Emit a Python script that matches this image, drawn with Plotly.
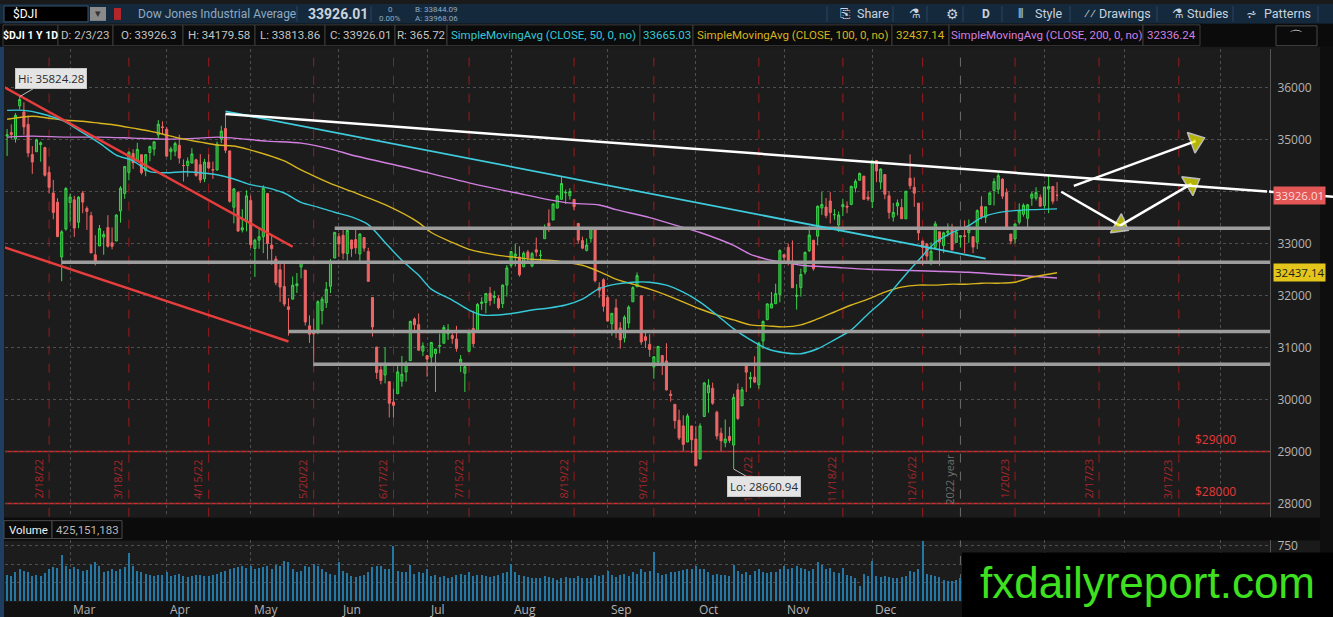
import pandas as pd
import plotly.graph_objects as go

W, H = 1333, 617

# $DJI daily bars 2/3/22 .. 2/3/23 (one line per month)
opens = [
    35463, 35066, 35134, 35010, 35645, 35530, 35290, 34712, 34764, 34900, 34843, 34366, 33970, 33794, 32740, 33277, 33788,
    33838, 33407, 33968, 33673, 33535, 32782, 32951, 33122, 33305, 33013, 33047, 33624, 33961, 34367, 34730, 34597, 34706, 34400, 34748, 34814, 35087, 35242, 35198,
    34766, 34775, 34887, 34500, 34497, 34545, 34609, 34515, 34242, 34561, 34423, 34413, 35007, 35209, 34780, 33696, 33980, 33259, 33417, 33825,
    32902, 33063, 33128, 33960, 32968, 32701, 32494, 32173, 31782, 31929, 32187, 32547, 32487, 31416, 31302, 31335, 31710, 31860, 32176, 32719, 33132,
    33156, 32807, 33066, 33074, 32798, 33113, 32847, 31960, 31008, 30569, 30469, 30342, 29948, 30110, 30350, 30528, 30746, 31547, 31439, 30929, 30843,
    30814, 30882, 31023, 31081, 31264, 31230, 31163, 30674, 30504, 30926, 31366, 31288, 31846, 31864, 32044, 31960, 31942, 31844, 32199, 32579,
    32753, 32740, 32552, 32837, 32566, 32878, 32770, 33091, 33390, 33451, 33680, 33848, 33971, 33917, 33847, 33386, 33055, 32866, 33098, 33262, 32154, 32303, 31959,
    31457, 31762, 31376, 31180, 31469, 31878, 32167, 31994, 31206, 31061, 30624, 30720, 30844, 30741, 30102, 29906, 29599, 29491, 29181, 29491, 29238,
    28855, 29672, 30128, 30216, 29754, 29352, 29168, 29290, 29123, 30185, 29878, 30649, 30393, 30429, 30284, 31124, 31535, 31758, 31841, 32021, 32785,
    32925, 32659, 31985, 32150, 32450, 32860, 33061, 33140, 33683, 33701, 33817, 33552, 33355, 33706, 33718, 33747, 34067, 34216, 34295, 33889, 33805,
    34596, 34181, 34325, 33917, 33507, 33720, 33691, 33474, 34255, 34080, 33775, 33048, 32991, 32663, 32923, 33224, 32961, 33200, 33264, 33021, 33121,
    33148, 33207, 33130, 33025, 33711, 33503, 33747, 34017, 34043, 34236, 33982, 33181, 33087, 33409, 33562, 33484, 33870, 33871, 33885, 33729,
    34045, 34096, 33926.3,
]
highs = [
    35491, 35200, 35290, 35507, 35824.28, 35716, 35461, 34872, 35013, 34962, 34859, 34480, 34223, 33870, 33255, 34080, 33953,
    33917, 33910, 34009, 33714, 33608, 33158, 33355, 33240, 33544, 33307, 33563, 34101, 34481, 34770, 34811, 34936, 34706, 34713, 34881, 34957, 35372, 35350, 35238,
    34861, 34958, 35091, 34616, 34656, 34832, 34629, 34718, 34628, 34714, 34576, 34959, 35262, 35492, 34784, 34066, 34007, 33659, 34022, 33920,
    33090, 33295, 34118, 33960, 33163, 32761, 32658, 32656, 31949, 32364, 32432, 32655, 32487, 31616, 31554, 31906, 31977, 32260, 32697, 33213, 33203,
    33261, 33248, 33066, 33273, 33198, 33113, 32916, 31960, 31008, 30689, 31004, 30342, 30204, 30674, 30836, 30740, 31516, 31577, 31654, 31096, 30843,
    31106, 30971, 31268, 31431, 31448, 31274, 31416, 30854, 30674, 31316, 31707, 31853, 31965, 32043, 32165, 32090, 32001, 32214, 32584, 32847,
    32992, 32944, 32848, 32876, 32836, 33111, 32874, 33365, 33655, 33762, 33933, 34281, 34036, 34062, 33847, 33386, 33131, 33095, 33309, 33297, 32253, 32331, 32006,
    31657, 31934, 31485, 31618, 31810, 32178, 32442, 31994, 31325, 31257, 30822, 31021, 30844, 31080, 30178, 29906, 29802, 29695, 29728, 29491, 29486,
    29541, 30339, 30389, 30323, 29784, 29455, 29615, 29470, 30109, 30307, 30240, 30699, 30528, 30830, 31108, 31519, 31849, 32065, 32225, 32889, 32785,
    33000, 33057, 32218, 32516, 32846, 33326, 33069, 33727, 33988, 33873, 33987, 33660, 33616, 33859, 33810, 34112, 34234, 34363, 34295, 34012, 34590,
    34596, 34444, 34325, 34002, 33778, 33845, 33858, 34005, 34712, 34270, 33775, 33048, 33011, 33020, 33428, 33224, 33226, 33387, 33379, 33292, 33152,
    33442, 33461, 33131, 33655, 33907, 33705, 33973, 34255, 34348, 34254, 34056, 33181, 33381, 33770, 33771, 33760, 33991, 34082, 33944, 34087,
    34334, 34106, 34179.58,
]
lows = [
    34999, 34683, 35017, 34940, 35573, 35090, 34658, 34338, 34764, 34571, 34285, 33962, 33464, 33120, 32273, 33245, 33405,
    33125, 33292, 33581, 33260, 32818, 32578, 32951, 32782, 32921, 32888, 33047, 33400, 33860, 34214, 34435, 34597, 34324, 34292, 34582, 34688, 35007, 35101, 34678,
    34608, 34677, 34537, 34191, 34283, 34545, 34282, 34162, 34179, 34435, 34241, 34401, 34929, 34737, 33783, 33386, 33221, 33212, 33232, 32913,
    32357, 32898, 32813, 32689, 32591, 32195, 31874, 31790, 31228, 31929, 32047, 32329, 31421, 31088, 30636, 31255, 31442, 31759, 32046, 32719, 32741,
    32693, 32644, 32743, 32800, 32662, 32843, 32264, 31210, 30395, 30291, 30309, 29654, 29653, 30110, 30244, 30343, 30746, 31332, 30941, 30837, 30437,
    30637, 30143, 30886, 31081, 31146, 31072, 30919, 30525, 30143, 30926, 31006, 31288, 31723, 31659, 31802, 31839, 31732, 31757, 31979, 32538,
    32558, 32362, 32542, 32630, 32540, 32748, 32637, 33091, 33222, 33451, 33669, 33848, 33760, 33841, 33640, 32997, 32888, 32848, 33016, 32249, 31955, 31690, 31496,
    31226, 31180, 30978, 31095, 31370, 31878, 32167, 31051, 30990, 30821, 30399, 30653, 30470, 30172, 29957, 29439, 29218, 29009, 29180, 28968, 28716,
    28855, 29672, 29744, 29896, 29230, 29002, 29081, 29162, 28660.94, 29603, 29878, 30142, 30218, 30313, 30207, 30970, 31523, 31758, 31841, 31868, 32647,
    32577, 32148, 31728, 31978, 32404, 32834, 32477, 32962, 33549, 33487, 33383, 33456, 33221, 33528, 33583, 33747, 33983, 34204, 33840, 33818, 33681,
    34178, 34040, 33851, 33474, 33421, 33539, 33476, 33474, 34044, 33704, 33059, 32574, 32667, 32581, 32923, 32573, 32814, 33130, 32869, 33021, 32919,
    32813, 33011, 32813, 32892, 33466, 33391, 33747, 33731, 33951, 33855, 33275, 32982, 33007, 33365, 33517, 33316, 33724, 33826, 33702, 33672,
    33582, 33754, 33813.86,
]
closes = [
    35111, 35089, 35091, 35463, 35768, 35241, 34738, 34566, 34989, 34935, 34312, 34079, 33597, 33132, 33224, 34059, 33893,
    33295, 33891, 33795, 33615, 32818, 32633, 33286, 33174, 32944, 32945, 33545, 34063, 34481, 34755, 34553, 34808, 34359, 34708, 34862, 34955, 35294, 35229, 34678,
    34818, 34922, 34641, 34497, 34583, 34721, 34308, 34220, 34565, 34451, 34411, 34911, 35161, 34793, 33811, 34049, 33240, 33302, 33916, 32977,
    33062, 33129, 34061, 32998, 32900, 32246, 32161, 31834, 31730, 32197, 32223, 32655, 31490, 31253, 31262, 31880, 31928, 32120, 32637, 33213, 32990,
    32813, 33248, 32900, 32916, 33180, 32910, 32272, 31393, 30517, 30365, 30668, 29927, 29888, 30530, 30484, 30677, 31501, 31438, 30947, 31029, 30775,
    31097, 30968, 31037, 31385, 31338, 31174, 30982, 30773, 30630, 31288, 31073, 31827, 31874, 32037, 31899, 31990, 31762, 32198, 32530, 32845,
    32798, 32397, 32813, 32727, 32803, 32833, 32775, 33310, 33337, 33761, 33913, 34153, 33981, 33999, 33707, 33064, 32910, 32969, 33292, 32283, 32099, 31791, 31510,
    31657, 31318, 31145, 31581, 31775, 32152, 32381, 31105, 31135, 30962, 30822, 31020, 30706, 30184, 30077, 29590, 29261, 29135, 29684, 29226, 28726,
    29490, 30317, 30274, 29927, 29297, 29203, 29240, 29211, 30039, 29635, 30186, 30524, 30424, 30334, 31083, 31500, 31837, 31840, 32034, 32862, 32733,
    32653, 32148, 32002, 32403, 32827, 33161, 32514, 33716, 33748, 33537, 33593, 33554, 33547, 33746, 33700, 34098, 34195, 34347, 33850, 33853, 34590,
    34395, 34430, 33947, 33597, 33598, 33781, 33476, 34005, 34108, 33966, 33203, 32920, 32757, 32850, 33377, 33027, 33204, 33241, 32876, 33221, 33147,
    33136, 33270, 32930, 33631, 33518, 33704, 33973, 34190, 34303, 33910, 33297, 33045, 33375, 33630, 33734, 33744, 33949, 33978, 33717, 34086,
    34093, 33812, 33926.01,
]
# volume, millions of shares
volume_m = [
    340, 345, 330, 380, 420, 400, 390, 330, 345, 330, 370, 420, 450, 440, 620, 470, 430,
    450, 430, 400, 410, 480, 520, 460, 390, 400, 420, 400, 430, 450, 640, 460, 400, 380, 360, 350, 330, 340, 350, 380,
    330, 340, 360, 330, 320, 330, 340, 350, 330, 330, 350, 360, 380, 400, 420, 440, 450, 460, 440, 470,
    430, 440, 450, 470, 430, 480, 470, 540, 520, 430, 380, 400, 460, 450, 490, 470, 420, 390, 360, 350, 520,
    400, 370, 330, 320, 330, 340, 380, 450, 470, 460, 420, 430, 730, 400, 380, 390, 480, 360, 380, 370, 420,
    330, 340, 320, 330, 310, 320, 340, 360, 350, 380, 330, 340, 350, 330, 320, 330, 340, 370, 380, 500,
    380, 340, 330, 320, 300, 310, 300, 330, 320, 300, 280, 300, 320, 310, 300, 330, 300, 310, 300, 340, 330, 340, 400,
    350, 320, 340, 360, 330, 380, 360, 420, 380, 400, 650, 370, 340, 360, 380, 390, 400, 410, 430, 420, 470,
    420, 420, 380, 350, 360, 340, 350, 330, 480, 400, 360, 380, 340, 400, 420, 390, 370, 380, 380, 420, 460,
    420, 440, 460, 440, 420, 400, 430, 520, 480, 420, 440, 380, 370, 440, 350, 330, 300, 200, 360, 330, 540,
    330, 320, 330, 320, 310, 300, 320, 330, 400, 380, 420, 810, 360, 340, 330, 320, 280, 260, 270, 280, 300,
    340, 330, 320, 360, 340, 330, 320, 330, 320, 380, 370, 360, 430, 330, 340, 320, 310, 300, 320, 420,
    400, 380, 425.15,
]

sma50_at = [1, 5, 9, 14, 18, 23, 27, 31, 35, 39, 43, 47, 51, 55, 59, 63, 67, 71, 75, 79, 83, 87, 91, 95, 99,
            102, 107, 111, 114, 118, 122, 126, 130, 134, 138, 142, 146, 150, 154, 158, 162, 166, 170, 174, 178,
            182, 186, 190, 194, 198, 202, 206, 210, 214, 218, 222, 226, 230, 233, 237, 241, 245, 251]
sma50 = [35560, 35560, 35500, 35370, 35180, 34930, 34700, 34590, 34380, 34360, 34380, 34360, 34320, 34240, 34130,
         34070, 33970, 33790, 33700, 33600, 33510, 33363, 33019, 32676, 32389, 32121, 31911, 31720, 31625, 31625,
         31663, 31720, 31758, 31816, 31930, 32130, 32217, 32255, 32255, 32198, 32064, 31873, 31625, 31357, 31147,
         30975, 30899, 30880, 30975, 31147, 31338, 31644, 31930, 32313, 32676, 33019, 33210, 33344, 33497, 33593,
         33631, 33650, 33665.03]
sma100_at = [1, 7, 11, 15, 19, 23, 27, 31, 35, 39, 43, 47, 51, 55, 59, 63, 67, 71, 75, 79, 83, 91, 99, 102, 107,
             111, 114, 118, 122, 126, 130, 134, 138, 142, 146, 150, 154, 158, 166, 170, 174, 178, 182, 186, 190,
             194, 198, 202, 206, 210, 214, 218, 222, 226, 230, 233, 237, 241, 245, 251]
sma100 = [35389, 35446, 35408, 35370, 35350, 35312, 35274, 35217, 35159, 35083, 35006, 34949, 34892, 34873, 34796,
          34701, 34586, 34414, 34261, 34120, 34000, 33745, 33402, 33210, 33019, 32886, 32828, 32771, 32733, 32695,
          32676, 32637, 32580, 32460, 32313, 32217, 32120, 32007, 31739, 31625, 31529, 31434, 31415, 31395, 31434,
          31548, 31682, 31816, 31930, 32064, 32160, 32198, 32198, 32217, 32217, 32236, 32236, 32255, 32351, 32437.14]
sma200_at = [1, 7, 15, 23, 31, 39, 47, 51, 55, 63, 71, 79, 83, 95, 111, 122, 134, 142, 146, 154, 162, 166, 174,
             178, 182, 186, 190, 198, 206, 214, 222, 230, 237, 245, 251]
sma200 = [35045, 35064, 35045, 35045, 35026, 35006, 35026, 35045, 35026, 34968, 34930, 34796, 34701, 34480, 34166,
          33975, 33784, 33740, 33650, 33497, 33306, 33210, 32962, 32790, 32695, 32637, 32580, 32542, 32504, 32485,
          32466, 32446, 32408, 32370, 32336.24]

# drawings on the chart
white_line = [("2022-04-21", 35490), ("2023-04-18", 33997)]
white_tail = [33997, 33900]  # the same line running on across the price scale
cyan_line = [("2022-04-21", 35541), ("2023-01-10", 32708)]
red_lines = [[("2022-02-03", 36020), ("2022-05-13", 32937)],
             [("2022-02-03", 32935), ("2022-05-12", 31115)]]
gray_levels = [("2022-05-27", 33290), ("2022-02-24", 32637), ("2022-05-12", 31306), ("2022-05-20", 30675)]
price_levels = [29000, 28000]
arrow_paths = [[("2023-02-06", 33994), ("2023-02-27", 33344)],
               [("2023-02-27", 33344), ("2023-03-22", 34147)],
               [("2023-02-09", 34108), ("2023-03-23", 34968)]]
expiry_days = ["2022-02-18", "2022-03-18", "2022-04-14", "2022-05-20", "2022-06-17", "2022-07-15", "2022-08-19",
               "2022-09-16", "2022-10-21", "2022-11-18", "2022-12-16", "2023-01-20", "2023-02-17", "2023-03-17"]
expiry_labels = ["2/18/22", "3/18/22", "4/15/22", "5/20/22", "6/17/22", "7/15/22", "8/19/22",
                 "9/16/22", "10/21/22", "11/18/22", "12/16/22", "1/20/23", "2/17/23", "3/17/23"]
price_ticks = list(range(28000, 37000, 1000))

holidays = ["2022-02-21", "2022-04-15", "2022-05-30", "2022-06-20", "2022-07-04", "2022-09-05", "2022-11-24",
            "2022-12-26", "2023-01-02", "2023-01-16", "2023-02-20", "2023-04-07"]
sessions = pd.bdate_range("2022-02-03", "2023-04-28")
sessions = sessions[~sessions.isin(pd.to_datetime(holidays))]
dates = sessions[:len(closes)]

CYAN, YELLOW, PINK = "#35c9d8", "#d8b41e", "#d17fe0"
FONT = "Open Sans"


def px(x):
    return x / W


def py(y):
    return 1 - y / H


fig = go.Figure()

fig.add_trace(go.Candlestick(
    x=dates, open=opens, high=highs, low=lows, close=closes,
    increasing=dict(line=dict(color="#3bd44b", width=1), fillcolor="#24822f"),
    decreasing=dict(line=dict(color="#ef6565", width=1), fillcolor="#ef6565"),
    whiskerwidth=0, hoverinfo="skip", showlegend=False, xaxis="x", yaxis="y"))

for at, vals, col in [(sma200_at, sma200, PINK), (sma100_at, sma100, YELLOW), (sma50_at, sma50, CYAN)]:
    fig.add_trace(go.Scatter(x=sessions[at], y=vals, mode="lines",
                             line=dict(color=col, width=1.4, shape="spline", smoothing=0.8),
                             hoverinfo="skip", showlegend=False, xaxis="x", yaxis="y"))

fig.add_trace(go.Bar(x=dates, y=volume_m, marker=dict(color="#2478a6", line=dict(width=0)),
                     width=86400000 * 0.3, hoverinfo="skip", showlegend=False, xaxis="x2", yaxis="y2"))

for path in arrow_paths:
    (d0, p0), (d1, p1) = path
    fig.add_trace(go.Scatter(
        x=[d0, d1], y=[p0, p1], mode="lines+markers",
        line=dict(color="white", width=2.5),
        marker=dict(symbol="triangle-up", size=[0, 19], color="#f4f400",
                    line=dict(color="white", width=1.5), angleref="previous"),
        hoverinfo="skip", showlegend=False, xaxis="x", yaxis="y"))

shapes = []
ann = []


def box(x0, y0, x1, y1, fill, line=None, layer="below"):
    shapes.append(dict(type="rect", xref="paper", yref="paper", x0=px(x0), x1=px(x1), y0=py(y1), y1=py(y0),
                       fillcolor=fill, line=dict(color=line or fill, width=1 if line else 0), layer=layer))


def text(x, y, s, color, size=11, bold=False, anchor="left", family="Roboto"):
    if bold:
        s = "<b>" + s + "</b>"
    ann.append(dict(xref="paper", yref="paper", x=px(x), y=py(y), text=s, showarrow=False,
                    xanchor=anchor, yanchor="middle", font=dict(color=color, size=size, family=family)))


# backgrounds of the toolbars and bands
box(0, 0, W, 20, "#15293c")
box(0, 20, W, 43, "#0b0b0b")
box(0, 517, W, 540, "#0b0b0b")
box(0, 602, W, H, "#111111")
box(1320, 43, W, H, "#0e0e0e")
box(0, 43, 4, H, "#1d3e60")

# top toolbar
box(4, 2, 88, 18, "#000000", "#3a556e")
text(11, 10, "$DJI", "#ffffff", 12)
box(90, 3, 106, 17, "#8a8a8a")
text(98, 10, "▾", "#333333", 11, anchor="center")
box(114, 4, 121, 16, "#b3262a")
text(136, 10, "Dow Jones Industrial Average", "#8fa9c2", 12)
text(306, 10, "33926.01", "#c9d4de", 14, bold=True)
text(390, 6, "0", "#8fa9c2", 8, anchor="center")
text(390, 15, "0.00%", "#8fa9c2", 8, anchor="center")
text(413, 6, "B: 33844.09", "#8fa9c2", 8)
text(413, 15, "A: 33968.06", "#8fa9c2", 8)
for sx in [297, 371, 827, 893, 927, 963, 1002, 1070, 1157, 1233, 1318]:
    shapes.append(dict(type="line", xref="paper", yref="paper", x0=px(sx), x1=px(sx), y0=py(2), y1=py(18),
                       line=dict(color="#2b4660", width=1)))
for x, s, sz in [(838, "⎘", 13), (855, "Share", 12.5), (907, "⚗", 13), (944, "⚙", 14), (980, "D", 12),
                 (1016, "⫴", 13), (1033, "Style", 12.5), (1082, "⁄⁄", 13), (1097, "Drawings", 12.5),
                 (1170, "⚗", 13), (1185, "Studies", 12.5), (1244, "⩫", 13), (1262, "Patterns", 12.5)]:
    text(x, 10, s, "#c8d3de", sz, bold=(s == "D"))

# second toolbar row
cells = [(3, 58, "$DJI 1 Y 1D", "#ffffff", True), (58, 113, "D: 2/3/23", "#c4c4c4", False),
         (113, 183, "O: 33926.3", "#c4c4c4", False), (183, 255, "H: 34179.58", "#c4c4c4", False),
         (255, 325, "L: 33813.86", "#c4c4c4", False), (325, 395, "C: 33926.01", "#c4c4c4", False),
         (395, 447, "R: 365.72", "#c4c4c4", False),
         (447, 640, "SimpleMovingAvg (CLOSE, 50, 0, no)", CYAN, False), (640, 693, "33665.03", CYAN, False),
         (693, 892, "SimpleMovingAvg (CLOSE, 100, 0, no)", YELLOW, False), (892, 949, "32437.14", YELLOW, False),
         (949, 1143, "SimpleMovingAvg (CLOSE, 200, 0, no)", PINK, False), (1143, 1200, "32336.24", PINK, False)]
for x0, x1, s, col, b in cells:
    box(x0, 21, x1, 42, "#0b0b0b", "#3c3c3c")
    text((x0 + x1) / 2, 31.5, s, col, 10.5 if b else 11.5, bold=b, anchor="center")
box(1276, 22, 1317, 42, "#0b0b0b", "#4a4a4a")
text(1296, 32, "⌒", "#d0d0d0", 14, anchor="center")

# volume header
box(4, 520, 52, 538, "#0b0b0b", "#4a4a4a")
text(28, 529, "Volume", "#f0f0f0", 11.5, anchor="center")
box(52, 520, 122, 538, "#0b0b0b", "#4a4a4a")
text(87, 529, "425,151,183", "#b8b8b8", 11.5, anchor="center")

# expiry markers (third Fridays)
for d, lab in zip(expiry_days, expiry_labels):
    shapes.append(dict(type="line", xref="x", yref="y domain", x0=d, x1=d, y0=0, y1=1,
                       line=dict(color="#9c1b1d", width=1, dash="dash"), layer="below"))
    ann.append(dict(xref="x", yref="paper", x=d, y=py(478), text=lab, textangle=-90, showarrow=False,
                    xanchor="right", yanchor="middle", xshift=-1,
                    font=dict(color="#a6272a", size=11, family=FONT)))

# year separator
for yr in ["y domain", "y2 domain"]:
    shapes.append(dict(type="line", xref="x", yref=yr, x0="2022-12-30", x1="2022-12-30", y0=0, y1=1,
                       line=dict(color="#6c6c6c", width=1, dash="dash"), layer="below"))
ann.append(dict(xref="x", yref="paper", x="2022-12-30", y=py(478), text="2022 year", textangle=-90,
                showarrow=False, xanchor="right", yanchor="middle", xshift=-1,
                font=dict(color="#6e6e6e", size=11, family=FONT)))

# horizontal price alerts
for lvl in price_levels:
    shapes.append(dict(type="line", xref="x domain", yref="y", x0=0, x1=1, y0=lvl, y1=lvl,
                       line=dict(color="#d42a2a", width=1.5), layer="below"))
    ann.append(dict(xref="paper", yref="y", x=px(1215), y=lvl, text="$%d" % lvl, showarrow=False,
                    xanchor="center", yanchor="bottom", yshift=1,
                    font=dict(color="#e23a3a", size=12, family=FONT)))

# drawn support / resistance
for d0, lvl in gray_levels:
    shapes.append(dict(type="line", xref="x", yref="y", x0=d0, x1="2023-04-28", y0=lvl, y1=lvl,
                       line=dict(color="#9d9d9d", width=3.5), layer="above"))
for path in red_lines:
    (d0, p0), (d1, p1) = path
    shapes.append(dict(type="line", xref="x", yref="y", x0=d0, x1=d1, y0=p0, y1=p1,
                       line=dict(color="#e83d3d", width=2.5), layer="above"))
for path, col, wd in [(cyan_line, "#3fcbdb", 1.8), (white_line, "#ffffff", 2.5)]:
    (d0, p0), (d1, p1) = path
    shapes.append(dict(type="line", xref="x", yref="y", x0=d0, x1=d1, y0=p0, y1=p1,
                       line=dict(color=col, width=wd), layer="above"))
shapes.append(dict(type="line", xref="paper", yref="y", x0=px(1269), x1=px(W), y0=white_tail[0], y1=white_tail[1],
                   line=dict(color="#ffffff", width=2.5), layer="above"))

# month gridlines sit on each month's last session; names only where the watermark leaves room
month_ends = sessions.to_series().groupby(sessions.to_period("M")).max()
month_ends = [d for d in month_ends if d < pd.Timestamp("2023-04-01")]
grid_days = [d for d in month_ends if d.month != 12]
for d in month_ends:
    if d >= pd.Timestamp("2022-12-01"):
        continue
    ann.append(dict(xref="x2", yref="paper", x=d, y=py(609), text=(d + pd.offsets.MonthBegin(1)).strftime("%b"),
                    showarrow=False, xanchor="left", yanchor="middle", xshift=1,
                    font=dict(color="#b4b4b4", size=12, family=FONT)))

# hi / lo callouts
ann.append(dict(xref="x", yref="y", x=dates[4], y=35824.28, text="Hi: 35824.28", showarrow=True,
                ax=31, ay=-18, arrowhead=0, arrowwidth=1, arrowcolor="#bdbdbd", bgcolor="#e4e4e4",
                bordercolor="#c8c8c8", borderpad=2, font=dict(color="#2a2a2a", size=11.5, family=FONT)))
ann.append(dict(xref="x", yref="y", x="2022-10-13", y=28660.94, text="Lo: 28660.94", showarrow=True,
                ax=30, ay=17, arrowhead=0, arrowwidth=1, arrowcolor="#bdbdbd", bgcolor="#e4e4e4",
                bordercolor="#c8c8c8", borderpad=2, font=dict(color="#2a2a2a", size=11.5, family=FONT)))

# last price / sma100 tags on the price scale
ann.append(dict(xref="paper", yref="y", x=px(1273), y=33926.01, text="33926.01", showarrow=False,
                xanchor="left", yanchor="middle", bgcolor="#e35757", borderpad=1,
                font=dict(color="#ffd9d9", size=11.5, family=FONT)))
ann.append(dict(xref="paper", yref="y", x=px(1273), y=32437.14, text="32437.14", showarrow=False,
                xanchor="left", yanchor="middle", bgcolor="#e3c51b", borderpad=1,
                font=dict(color="#1e1e1e", size=11.5, family=FONT)))

# watermark
box(962, 552, W, H, "#000000", layer="above")
ann.append(dict(xref="paper", yref="paper", x=px(1147), y=py(582), text="fxdailyreport.com", showarrow=False,
                xanchor="center", yanchor="middle",
                font=dict(color="#3fe020", size=44, family="Liberation Sans")))

xcommon = dict(type="date", range=["2022-02-03 12:00", "2023-04-18 17:00"],
               rangebreaks=[dict(bounds=["sat", "mon"]), dict(values=holidays)],
               domain=[px(5), px(1270)], showticklabels=False, ticks="", tickvals=grid_days,
               showgrid=True, gridcolor="#4e4e4e", griddash="dot", gridwidth=1, zeroline=False,
               showline=False, fixedrange=True)

fig.update_layout(
    width=W, height=H, autosize=False, margin=dict(l=0, r=0, t=0, b=0),
    paper_bgcolor="#1a1a1a", plot_bgcolor="#1c1c1c", showlegend=False, bargap=0,
    font=dict(family=FONT, color="#b4b4b4", size=11.5),
    xaxis=dict(**xcommon, anchor="y", rangeslider=dict(visible=False)),
    xaxis2=dict(**xcommon, anchor="y2", matches="x"),
    # 34000 sits under the last-price tag, so its label is left blank
    yaxis=dict(domain=[py(516), py(45)], range=[27746, 36745], side="right",
               tickvals=price_ticks, ticktext=["" if t == 34000 else str(t) for t in price_ticks],
               ticks="", ticklabelstandoff=4,
               tickfont=dict(color="#b4b4b4", size=12), showgrid=True, gridcolor="#4e4e4e",
               griddash="dot", zeroline=False, showline=True, linecolor="#555555", anchor="x"),
    # 250 / 500 sit under the watermark
    yaxis2=dict(domain=[py(601), py(540)], range=[0, 817], side="right", tickvals=[250, 500, 750],
                ticktext=["", "", "750"],
                ticks="", ticklabelstandoff=4, tickfont=dict(color="#b4b4b4", size=12), showgrid=True,
                gridcolor="#4e4e4e", griddash="dot", zeroline=False, showline=True, linecolor="#555555",
                anchor="x2"),
    shapes=shapes, annotations=ann,
)

fig.write_html("out.html", config={"displayModeBar": False},
               post_script="document.body.style.margin='0';")
